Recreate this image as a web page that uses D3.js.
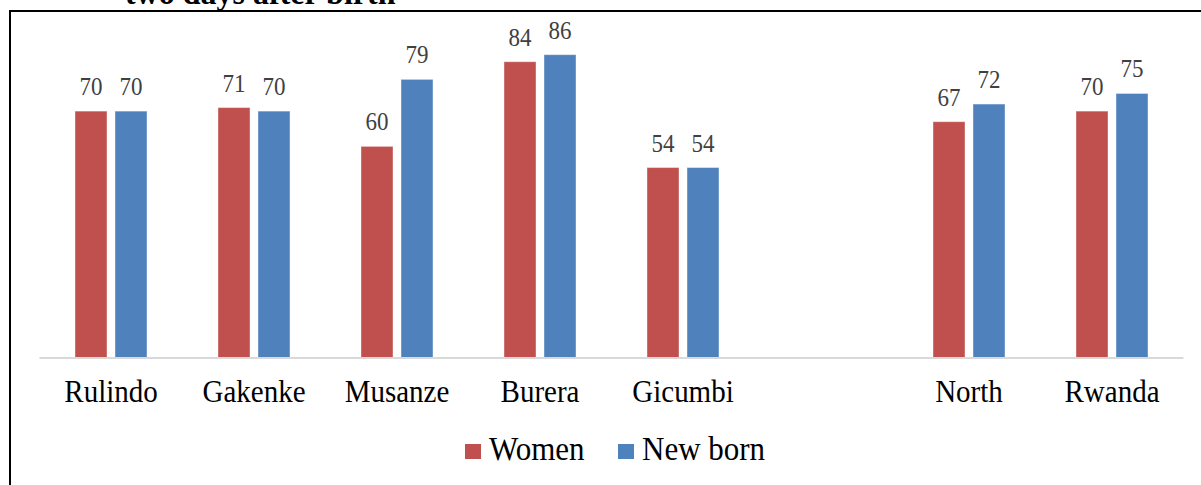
<!DOCTYPE html>
<html>
<head>
<meta charset="utf-8">
<script src="https://cdn.jsdelivr.net/npm/d3@7"></script>
<style>
  body { margin: 0; background: #fff; }
  svg text { font-family: "Times New Roman", "Liberation Serif", serif; }
</style>
</head>
<body>
<svg width="1201" height="485"></svg>
<script>
// categories (blank slot separates districts from the totals)
const categories = ["Rulindo", "Gakenke", "Musanze", "Burera", "Gicumbi", "", "North", "Rwanda"];
const series = ["Women", "New born"];
const women = [70, 71, 60, 84, 54, null, 67, 70];
const newborn = [70, 70, 79, 86, 54, null, 72, 75];
const colors = ["#C0504D", "#4F81BD"];

const svg = d3.select("svg");
const stretch = 1.08; // reference text is a little taller than wide

// frame around the figure (top + left visible)
svg.append("rect")
   .attr("x", 10).attr("y", 11)
   .attr("width", 1300).attr("height", 600)
   .attr("fill", "none")
   .attr("stroke", "#000")
   .attr("stroke-width", 2);

// cut-off title at the top
svg.append("text")
   .attr("transform", `translate(125,4) scale(1,${stretch})`)
   .attr("font-size", 32)
   .attr("font-weight", "bold")
   .text("two days after birth");

const x = d3.scaleBand()
            .domain(categories)
            .range([39.5, 1183.5]);

const xInner = d3.scaleBand()
                 .domain(series)
                 .range([35.5, 107.5])
                 .paddingInner(0.2);

const y = d3.scaleLinear()
            .domain([0, 100])
            .range([358, 5.3]);

const rows = categories.map((c, i) => ({ cat: c, values: [women[i], newborn[i]] }));

const groups = svg.selectAll("g.cat")
   .data(rows)
   .enter()
   .append("g")
   .attr("class", "cat")
   .attr("transform", d => `translate(${x(d.cat)},0)`);

const cells = groups.selectAll("g.bar")
   .data(d => d.values.map((v, j) => ({ s: series[j], v: v, j: j })).filter(e => e.v !== null))
   .enter()
   .append("g")
   .attr("class", "bar");

cells.append("rect")
   .attr("x", d => xInner(d.s))
   .attr("y", d => y(d.v))
   .attr("width", xInner.bandwidth())
   .attr("height", d => y(0) - y(d.v))
   .attr("fill", (d) => colors[d.j])
   .attr("stroke", "#fff")
   .attr("stroke-opacity", 0.4)
   .attr("stroke-width", 1);

cells.append("text")
   .attr("transform", d => `translate(${xInner(d.s) + xInner.bandwidth() / 2},${y(d.v) - 16}) scale(1,${stretch})`)
   .attr("text-anchor", "middle")
   .attr("font-size", 23)
   .attr("fill", "#404040")
   .text(d => d.v);

// baseline
svg.append("line")
   .attr("x1", x.range()[0]).attr("x2", x.range()[1])
   .attr("y1", y(0)).attr("y2", y(0))
   .attr("stroke", "#D9D9D9")
   .attr("stroke-width", 2);

// category labels
svg.selectAll("text.cat")
   .data(categories)
   .enter()
   .append("text")
   .attr("class", "cat")
   .attr("transform", d => `translate(${x(d) + x.bandwidth() / 2},402) scale(1,${stretch})`)
   .attr("text-anchor", "middle")
   .attr("font-size", 29)
   .attr("fill", "#000")
   .text(d => d);

// legend
const legendX = [465, 618];
const legend = svg.selectAll("g.legend")
   .data(series)
   .enter()
   .append("g")
   .attr("class", "legend")
   .attr("transform", (d, i) => `translate(${legendX[i]},444)`);

legend.append("rect")
   .attr("width", 16).attr("height", 15)
   .attr("fill", (d, i) => colors[i]);

legend.append("text")
   .attr("transform", `translate(24,16) scale(1,${stretch})`)
   .attr("font-size", 31)
   .attr("fill", "#000")
   .text(d => d);
</script>
</body>
</html>
